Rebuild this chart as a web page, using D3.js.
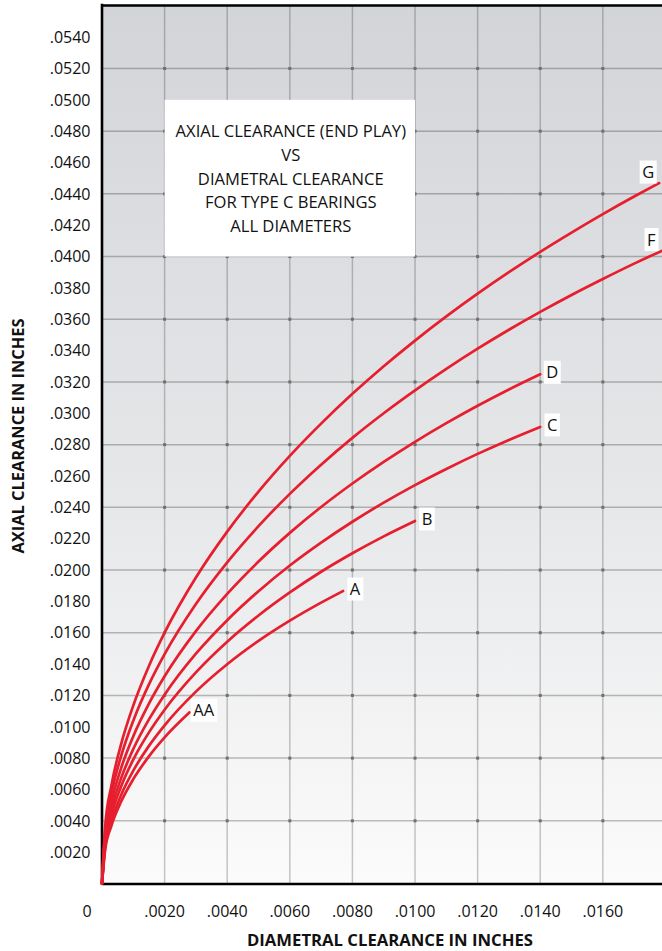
<!DOCTYPE html>
<html>
<head>
<meta charset="utf-8">
<script src="https://cdn.jsdelivr.net/npm/d3@7"></script>
<style>
  html, body { margin: 0; padding: 0; background: #ffffff; }
  svg { display: block; font-family: "Open Sans", "Noto Sans", sans-serif; }
</style>
</head>
<body>
<svg id="chart" width="662" height="951"></svg>
<script>
// Axial clearance (end play) vs diametral clearance, Type C bearings.
// One curve per clearance class; values in inches.
const curveNames = ["AA", "A", "B", "C", "D", "F", "G"];

const diamAA = [0, 0.0001, 0.0003, 0.0006, 0.001, 0.0015, 0.002, 0.0028];
const axialAA = [0, 0.00213, 0.00368, 0.00518, 0.00666, 0.00811, 0.00932, 0.01092];

const diamA = [0, 0.0001, 0.0003, 0.0006, 0.001, 0.0015, 0.002, 0.003, 0.004, 0.005, 0.006, 0.007, 0.0077];
const axialA = [0, 0.00230, 0.00397, 0.00560, 0.00720, 0.00878, 0.01009, 0.01224, 0.01399, 0.01548, 0.01677, 0.01792, 0.01866];

const diamB = [0, 0.0001, 0.0003, 0.0006, 0.001, 0.0015, 0.002, 0.003, 0.004, 0.005, 0.006, 0.007, 0.008, 0.009, 0.010];
const axialB = [0, 0.00252, 0.00435, 0.00614, 0.00791, 0.00964, 0.01109, 0.01347, 0.01543, 0.01710, 0.01857, 0.01989, 0.02107, 0.02215, 0.02313];

const diamC = [0, 0.0001, 0.0003, 0.0006, 0.001, 0.0015, 0.002, 0.003, 0.004, 0.005, 0.006, 0.007, 0.008, 0.009, 0.010, 0.011, 0.012, 0.013, 0.014];
const axialC = [0, 0.00273, 0.00472, 0.00666, 0.00858, 0.01047, 0.01205, 0.01466, 0.01680, 0.01865, 0.02029, 0.02175, 0.02308, 0.02430, 0.02542, 0.02645, 0.02741, 0.02830, 0.02913];

const diamD = [0, 0.0001, 0.0003, 0.0006, 0.001, 0.0015, 0.002, 0.003, 0.004, 0.005, 0.006, 0.007, 0.008, 0.009, 0.010, 0.011, 0.012, 0.013, 0.014];
const axialD = [0, 0.00299, 0.00517, 0.00730, 0.00940, 0.01148, 0.01322, 0.01610, 0.01848, 0.02054, 0.02237, 0.02402, 0.02552, 0.02690, 0.02818, 0.02937, 0.03048, 0.03152, 0.03249];

const diamF = [0, 0.0001, 0.0003, 0.0006, 0.001, 0.0015, 0.002, 0.003, 0.004, 0.005, 0.006, 0.007, 0.008, 0.009, 0.010, 0.011, 0.012, 0.013, 0.014, 0.015, 0.016, 0.017, 0.0179];
const axialF = [0, 0.00330, 0.00571, 0.00806, 0.01039, 0.01270, 0.01463, 0.01783, 0.02049, 0.02280, 0.02486, 0.02672, 0.02843, 0.03000, 0.03146, 0.03283, 0.03412, 0.03533, 0.03647, 0.03755, 0.03857, 0.03955, 0.04038];

const diamG = [0, 0.0001, 0.0003, 0.0006, 0.001, 0.0015, 0.002, 0.003, 0.004, 0.005, 0.006, 0.007, 0.008, 0.009, 0.010, 0.011, 0.012, 0.013, 0.014, 0.015, 0.016, 0.017, 0.0178];
const axialG = [0, 0.00360, 0.00624, 0.00881, 0.01136, 0.01388, 0.01600, 0.01952, 0.02245, 0.02500, 0.02728, 0.02934, 0.03124, 0.03300, 0.03464, 0.03618, 0.03763, 0.03900, 0.04030, 0.04153, 0.04271, 0.04383, 0.04469];

const diamSeries = [diamAA, diamA, diamB, diamC, diamD, diamF, diamG];
const axialSeries = [axialAA, axialA, axialB, axialC, axialD, axialF, axialG];

// Tick values and labels
const xTickValues = [0.002, 0.004, 0.006, 0.008, 0.010, 0.012, 0.014, 0.016];
const xTickLabels = [".0020", ".0040", ".0060", ".0080", ".0100", ".0120", ".0140", ".0160"];
const yTickValues = d3.range(1, 28).map(i => +(i * 0.002).toFixed(4));
const yTickLabels = yTickValues.map(v => v.toFixed(4).replace(/^0/, ""));
const hGridValues = d3.range(1, 14).map(i => +(i * 0.004).toFixed(4));

const titleLines = [
  "AXIAL CLEARANCE (END PLAY)",
  "VS",
  "DIAMETRAL CLEARANCE",
  "FOR TYPE C BEARINGS",
  "ALL DIAMETERS"
];
// Title panel spans these data extents
const titleBoxX = [0.002, 0.010];
const titleBoxY = [0.040, 0.050];

const xLabel = "DIAMETRAL CLEARANCE IN INCHES";
const yLabel = "AXIAL CLEARANCE IN INCHES";

// ---- layout ----
const W = 662, H = 951;
const plot = { left: 102, right: 662, top: 5, bottom: 883.5 };

const x = d3.scaleLinear().domain([0, 0.01789]).range([plot.left, plot.right]);
const y = d3.scaleLinear().domain([0, 0.05605]).range([plot.bottom, plot.top]);

const svg = d3.select("#chart");
const defs = svg.append("defs");

const grad = defs.append("linearGradient")
  .attr("id", "bg").attr("x1", 0).attr("y1", 0).attr("x2", 0).attr("y2", 1);
grad.append("stop").attr("offset", "0%").attr("stop-color", "#d3d4d8");
grad.append("stop").attr("offset", "55%").attr("stop-color", "#e6e7e9");
grad.append("stop").attr("offset", "100%").attr("stop-color", "#fbfbfb");

defs.append("clipPath").attr("id", "plotClip")
  .append("rect")
  .attr("x", plot.left).attr("y", plot.top)
  .attr("width", plot.right - plot.left).attr("height", plot.bottom - plot.top);

// background
svg.append("rect")
  .attr("x", plot.left).attr("y", plot.top)
  .attr("width", plot.right - plot.left).attr("height", plot.bottom - plot.top)
  .attr("fill", "url(#bg)");

// grid
const grid = svg.append("g").attr("clip-path", "url(#plotClip)");
grid.selectAll("line.v").data(xTickValues).join("line")
  .attr("class", "v")
  .attr("x1", d => x(d)).attr("x2", d => x(d))
  .attr("y1", plot.top).attr("y2", plot.bottom)
  .attr("stroke", "#000").attr("stroke-opacity", 0.22).attr("stroke-width", 1.5);
grid.selectAll("line.h").data(hGridValues).join("line")
  .attr("class", "h")
  .attr("x1", plot.left).attr("x2", plot.right)
  .attr("y1", d => y(d)).attr("y2", d => y(d))
  .attr("stroke", "#000").attr("stroke-opacity", 0.25).attr("stroke-width", 1.5);

// small marks where grid lines cross
const crossings = [];
xTickValues.forEach(xv => hGridValues.forEach(yv => crossings.push([xv, yv])));
grid.selectAll("rect.cross").data(crossings).join("rect")
  .attr("class", "cross")
  .attr("x", d => x(d[0]) - 1.5).attr("y", d => y(d[1]) - 1.5)
  .attr("width", 3).attr("height", 3)
  .attr("fill", "#6f6f6f");

// title panel
svg.append("rect")
  .attr("x", x(titleBoxX[0])).attr("y", y(titleBoxY[1]))
  .attr("width", x(titleBoxX[1]) - x(titleBoxX[0]))
  .attr("height", y(titleBoxY[0]) - y(titleBoxY[1]))
  .attr("fill", "#ffffff");

const titleCx = (x(titleBoxX[0]) + x(titleBoxX[1])) / 2 + 1;
svg.append("g").selectAll("text").data(titleLines).join("text")
  .attr("x", titleCx)
  .attr("y", (d, i) => y(titleBoxY[1]) + 31.5 + i * 23.7)
  .attr("dy", "0.36em")
  .attr("text-anchor", "middle")
  .attr("font-size", 16.6)
  .attr("fill", "#111")
  .text(d => d);

// frame: left, top, bottom
svg.append("line").attr("x1", plot.left).attr("x2", plot.left)
  .attr("y1", plot.top - 1.25).attr("y2", plot.bottom + 1.25)
  .attr("stroke", "#000").attr("stroke-width", 2.6);
svg.append("line").attr("x1", plot.left).attr("x2", plot.right)
  .attr("y1", plot.top + 0.5).attr("y2", plot.top + 0.5)
  .attr("stroke", "#000").attr("stroke-width", 2.6);
svg.append("line").attr("x1", plot.left).attr("x2", plot.right)
  .attr("y1", plot.bottom + 0.5).attr("y2", plot.bottom + 0.5)
  .attr("stroke", "#000").attr("stroke-width", 2.6);

// y tick labels
svg.append("g").selectAll("text").data(yTickValues).join("text")
  .attr("x", 90.5)
  .attr("y", d => y(d))
  .attr("dy", "0.36em")
  .attr("text-anchor", "end")
  .attr("font-size", 16)
  .attr("fill", "#111")
  .text((d, i) => yTickLabels[i]);

// x tick labels
svg.append("g").selectAll("text").data(xTickValues).join("text")
  .attr("x", d => x(d))
  .attr("y", 911)
  .attr("dy", "0.36em")
  .attr("text-anchor", "middle")
  .attr("font-size", 16)
  .attr("fill", "#111")
  .text((d, i) => xTickLabels[i]);
svg.append("text")
  .attr("x", x(0) - 15).attr("y", 911).attr("dy", "0.36em")
  .attr("text-anchor", "middle").attr("font-size", 16).attr("fill", "#111")
  .text("0");

// axis titles
svg.append("text")
  .attr("x", 390).attr("y", 940).attr("dy", "0.36em")
  .attr("text-anchor", "middle")
  .attr("font-size", 16.4).attr("font-weight", 700).attr("fill", "#111")
  .attr("textLength", 286).attr("lengthAdjust", "spacingAndGlyphs")
  .text(xLabel);
svg.append("text")
  .attr("transform", "translate(18,436) rotate(-90)")
  .attr("dy", "0.36em")
  .attr("text-anchor", "middle")
  .attr("font-size", 16).attr("font-weight", 700).attr("fill", "#111")
  .attr("textLength", 235).attr("lengthAdjust", "spacingAndGlyphs")
  .text(yLabel);

// curves
const line = d3.line()
  .x(d => x(d[0]))
  .y(d => y(d[1]))
  .curve(d3.curveMonotoneX);

const curves = curveNames.map((name, i) => ({
  name,
  points: diamSeries[i].map((dv, j) => [dv, axialSeries[i][j]])
}));

svg.append("g").selectAll("path").data(curves).join("path")
  .attr("d", d => line(d.points))
  .attr("fill", "none")
  .attr("stroke", "#e61e2e")
  .attr("stroke-width", 2.7)
  .attr("stroke-linecap", "round");

// end-of-curve labels on white tags
const labels = svg.append("g");
curves.forEach(c => {
  const end = c.points[c.points.length - 1];
  const ex = x(end[0]), ey = y(end[1]);
  const atEdge = ex > plot.right - 20;
  const cx = atEdge ? ex - 11 : ex + 12 + (c.name.length - 1) * 2;
  const cy = atEdge ? ey - 11 : ey - 2;
  const g = labels.append("g");
  const t = g.append("text")
    .attr("x", cx).attr("y", cy).attr("dy", "0.36em")
    .attr("text-anchor", "middle")
    .attr("font-size", 16.5)
    .attr("fill", "#111")
    .text(c.name);
  const bb = t.node().getBBox();
  g.insert("rect", "text")
    .attr("x", bb.x - 2.5).attr("y", cy - 11.5)
    .attr("width", bb.width + 5).attr("height", 23)
    .attr("fill", "#ffffff");
});
</script>
</body>
</html>
